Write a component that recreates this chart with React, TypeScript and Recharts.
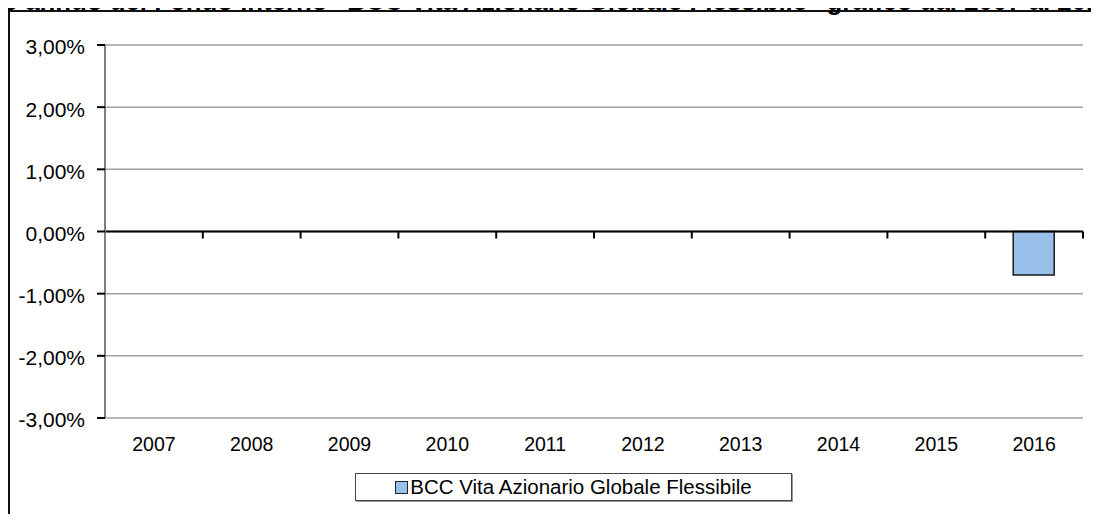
import * as React from 'react';
import {
	BarChart,
	Bar,
	XAxis,
	YAxis,
	CartesianGrid,
	ReferenceLine,
	Legend,
} from 'recharts';

const title =
	'Rendimento annuo del Fondo interno "BCC Vita Azionario Globale Flessibile" grafico dal 2007 al 2016';
const seriesName = 'BCC Vita Azionario Globale Flessibile';
const years = ['2007', '2008', '2009', '2010', '2011', '2012', '2013', '2014', '2015', '2016'];
const returns = [null, null, null, null, null, null, null, null, null, -0.007];
const yTicks = [-0.03, -0.02, -0.01, 0, 0.01, 0.02, 0.03];

const data = years.map((year, i) => ({ year, value: returns[i] }));

const font = '"Liberation Sans", Arial, sans-serif';

const fmtPct = (v: number) => (v * 100).toFixed(2).replace('.', ',') + '%';

// zero line with the small category ticks hanging below it
function ZeroLine(props: any) {
	const { x1, y1, x2 } = props;
	const n = years.length;
	const step = (x2 - x1) / n;
	const ticks = [];
	for (let i = 1; i <= n; i++) {
		const x = x1 + step * i;
		ticks.push(<line key={i} x1={x} y1={y1} x2={x} y2={y1 + 7} stroke='#000' strokeWidth={2} />);
	}
	return (
		<g>
			<line x1={x1} y1={y1} x2={x2} y2={y1} stroke='#000' strokeWidth={2} />
			{ticks}
		</g>
	);
}

function LegendBox() {
	return (
		<div
			style={{
				boxSizing: 'border-box',
				width: 437,
				height: 28,
				border: '1px solid #444',
				boxShadow: '1px 1px 0 #999',
				background: '#fff',
				display: 'flex',
				alignItems: 'center',
				justifyContent: 'center',
				fontFamily: font,
				fontSize: 20.5,
				color: '#000',
			}}
		>
			<span
				style={{
					display: 'inline-block',
					width: 11,
					height: 11,
					background: '#99c0ea',
					border: '1.5px solid #222',
					marginRight: 2,
				}}
			/>
			{seriesName}
		</div>
	);
}

export default function App() {
	return (
		<div
			style={{
				position: 'relative',
				width: 1099,
				height: 522,
				margin: -8,
				overflow: 'hidden',
				background: '#fff',
				fontFamily: font,
			}}
		>
			<div
				style={{
					position: 'absolute',
					left: 8,
					top: 10,
					width: 1200,
					height: 600,
					borderTop: '2px solid #111',
					borderLeft: '2px solid #111',
				}}
			/>
			<div style={{ position: 'absolute', left: 0, top: 0 }}>
				<BarChart
					width={1099}
					height={522}
					data={data}
					margin={{ top: 45, right: 16, bottom: 64, left: 0 }}
				>
					<CartesianGrid vertical={false} stroke='#a0a0a0' strokeWidth={1.5} />
					<XAxis
						dataKey='year'
						axisLine={false}
						tickLine={false}
						tickSize={0}
						tickMargin={19}
						height={40}
						interval={0}
						tick={{ fill: '#000', fontSize: 19.5, fontFamily: font }}
					/>
					<YAxis
						width={105}
						domain={[-0.03, 0.03]}
						ticks={yTicks}
						tickFormatter={fmtPct}
						tickSize={8}
						tickMargin={12}
						axisLine={{ stroke: '#808080', strokeWidth: 2 }}
						tickLine={{ stroke: '#000', strokeWidth: 2 }}
						tick={{ fill: '#000', fontSize: 21, fontFamily: font, dy: 2 }}
					/>
					<YAxis
						yAxisId='right'
						orientation='right'
						width={0}
						domain={[-0.03, 0.03]}
						tick={false}
						tickLine={false}
						axisLine={{ stroke: '#a0a0a0', strokeWidth: 2 }}
					/>
					<Bar
						dataKey='value'
						name={seriesName}
						fill='#99c0ea'
						stroke='#1a1a1a'
						strokeWidth={1.5}
						barSize={41}
						isAnimationActive={false}
					/>
					<ReferenceLine y={0} shape={ZeroLine} />
					<Legend
						layout='horizontal'
						verticalAlign='middle'
						align='center'
						content={() => <LegendBox />}
						wrapperStyle={{ left: 355, top: 473, width: 437, height: 28 }}
					/>
				</BarChart>
			</div>
			<svg
				width={1099}
				height={30}
				style={{ position: 'absolute', left: 0, top: 0, zIndex: 5, overflow: 'hidden' }}
			>
				<text x={-131} y={10} fontFamily={font} fontWeight='bold' fontSize={25.8} fill='#000'>
					{title}
				</text>
			</svg>
		</div>
	);
}
